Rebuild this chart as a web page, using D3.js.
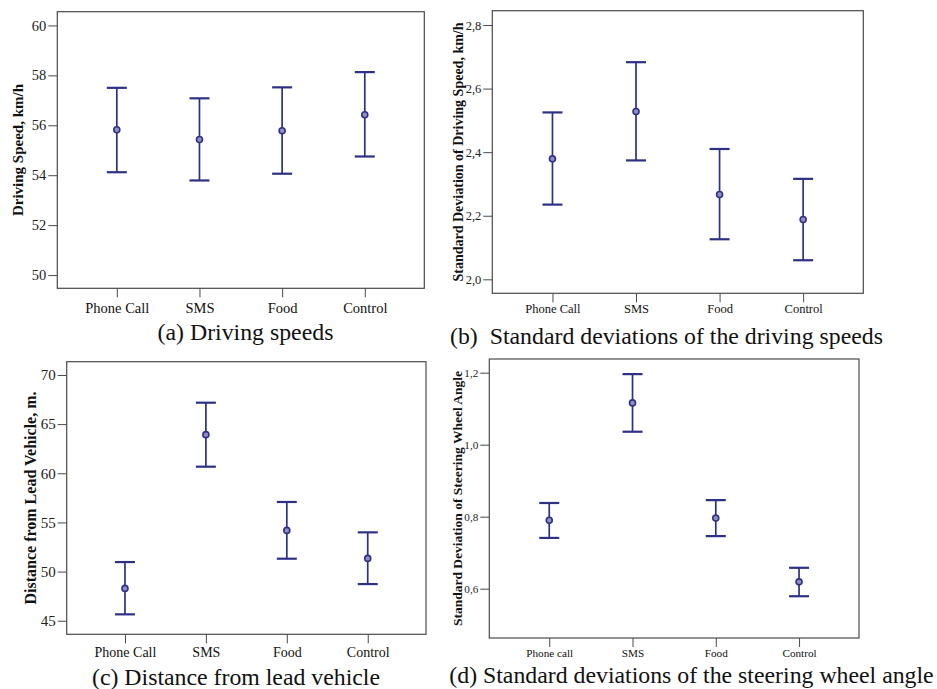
<!DOCTYPE html>
<html>
<head>
<meta charset="utf-8">
<script src="https://cdn.jsdelivr.net/npm/d3@7"></script>
<style>
  body { margin: 0; background: #fff; }
  svg { display: block; }
</style>
</head>
<body>
<svg width="937" height="689"></svg>
<script>
// categories
const groups = ["Phone Call", "SMS", "Food", "Control"];
const groupsSteer = ["Phone call", "SMS", "Food", "Control"];

// (a) driving speed, km/h : mean and 95% CI
const speedMean = [55.82, 55.43, 55.78, 56.42];
const speedLow  = [54.12, 53.79, 54.06, 54.75];
const speedHigh = [57.50, 57.08, 57.52, 58.13];
const speedTicks = [50, 52, 54, 56, 58, 60];

// (b) SD of driving speed
const sdSpeedMean = [2.379, 2.528, 2.267, 2.188];
const sdSpeedLow  = [2.235, 2.374, 2.126, 2.060];
const sdSpeedHigh = [2.525, 2.683, 2.410, 2.316];
const sdSpeedTicks = [2.0, 2.2, 2.4, 2.6, 2.8];

// (c) distance from lead vehicle, m
const distMean = [48.29, 63.93, 54.19, 51.34];
const distLow  = [45.65, 60.67, 51.31, 48.73];
const distHigh = [50.97, 67.18, 57.08, 53.99];
const distTicks = [45, 50, 55, 60, 65, 70];

// (d) SD of steering wheel angle
const steerMean = [0.790, 1.116, 0.796, 0.619];
const steerLow  = [0.741, 1.036, 0.746, 0.579];
const steerHigh = [0.838, 1.196, 0.846, 0.658];
const steerTicks = [0.6, 0.8, 1.0, 1.2];

const serif = "'Liberation Serif', 'Times New Roman', serif";
const navy = "#2e3086";
const frame = "#4a4a4a";

const svg = d3.select("svg");

const commaFmt = d => d3.format(".1f")(d).replace(".", ",");

const drawPanel = (p) => {
    const g = svg.append("g");

    const x = d3.scalePoint()
        .domain(p.cats)
        .range([p.left, p.right])
        .padding(0.72);

    const y = d3.scaleLinear()
        .domain(p.domain)
        .range([p.bottom, p.top]);

    g.append("rect")
        .attr("x", p.left)
        .attr("y", p.top)
        .attr("width", p.right - p.left)
        .attr("height", p.bottom - p.top)
        .attr("fill", "none")
        .attr("stroke", frame)
        .attr("stroke-width", 1.2);

    const axY = g.append("g")
        .attr("transform", `translate(${p.left},0)`)
        .call(d3.axisLeft(y).tickValues(p.ticks).tickFormat(p.fmt).tickSize(9).tickPadding(2));
    axY.select(".domain").remove();
    axY.selectAll("line").attr("stroke", frame);
    axY.selectAll("text")
        .attr("fill", "#222")
        .style("font-family", serif)
        .style("font-size", p.tickFont + "px");

    const axX = g.append("g")
        .attr("transform", `translate(0,${p.bottom})`)
        .call(d3.axisBottom(x).tickSize(9).tickPadding(p.xPad));
    axX.select(".domain").remove();
    axX.selectAll("line").attr("stroke", frame);
    axX.selectAll("text")
        .attr("fill", "#111")
        .style("font-family", serif)
        .style("font-size", p.catFont + "px");

    g.append("text")
        .attr("transform", `translate(${p.labelX},${(p.top + p.bottom) / 2}) rotate(-90)`)
        .attr("text-anchor", "middle")
        .style("font-family", serif)
        .style("font-weight", "bold")
        .style("font-size", p.labelFont + "px")
        .attr("fill", "#111")
        .text(p.label);

    const rows = p.cats.map((c, i) => ({ c, m: p.mean[i], lo: p.low[i], hi: p.high[i] }));
    const cap = 10;

    const bars = g.append("g").selectAll("g")
        .data(rows)
        .enter()
        .append("g");

    bars.append("line")
        .attr("x1", d => x(d.c)).attr("x2", d => x(d.c))
        .attr("y1", d => y(d.lo)).attr("y2", d => y(d.hi))
        .attr("stroke", navy).attr("stroke-width", 1.7);

    bars.append("line")
        .attr("x1", d => x(d.c) - cap).attr("x2", d => x(d.c) + cap)
        .attr("y1", d => y(d.hi)).attr("y2", d => y(d.hi))
        .attr("stroke", navy).attr("stroke-width", 2.2);

    bars.append("line")
        .attr("x1", d => x(d.c) - cap).attr("x2", d => x(d.c) + cap)
        .attr("y1", d => y(d.lo)).attr("y2", d => y(d.lo))
        .attr("stroke", navy).attr("stroke-width", 2.2);

    bars.append("circle")
        .attr("cx", d => x(d.c))
        .attr("cy", d => y(d.m))
        .attr("r", 3)
        .attr("fill", "#8e90c4")
        .attr("stroke", navy)
        .attr("stroke-width", 1.6);

    svg.append("text")
        .attr("x", p.capX)
        .attr("y", p.capY)
        .attr("text-anchor", "middle")
        .style("font-family", serif)
        .style("font-size", "23.8px")
        .style("white-space", "pre")
        .attr("fill", "#111")
        .text(p.caption);
};

drawPanel({
    cats: groups, mean: speedMean, low: speedLow, high: speedHigh, ticks: speedTicks,
    fmt: d3.format("d"), domain: [49.47, 60.55],
    left: 57.3, right: 424.3, top: 11.7, bottom: 288.3,
    tickFont: 14.5, catFont: 14.5, xPad: 5.2,
    label: "Driving Speed, km/h", labelX: 23.3, labelFont: 15,
    caption: "(a) Driving speeds", capX: 245.5, capY: 340
});

drawPanel({
    cats: groups, mean: sdSpeedMean, low: sdSpeedLow, high: sdSpeedHigh, ticks: sdSpeedTicks,
    fmt: commaFmt, domain: [1.956, 2.845],
    left: 492.3, right: 863.3, top: 10.7, bottom: 293.3,
    tickFont: 12.5, catFont: 12.5, xPad: 2.2,
    label: "Standard Deviation of Driving Speed, km/h", labelX: 463.3, labelFont: 14,
    caption: "(b)  Standard deviations of the driving speeds", capX: 666.5, capY: 344
});

drawPanel({
    cats: groups, mean: distMean, low: distLow, high: distHigh, ticks: distTicks,
    fmt: d3.format("d"), domain: [43.62, 71.35],
    left: 66.7, right: 426, top: 361.7, bottom: 634.3,
    tickFont: 15, catFont: 14, xPad: 3.8,
    label: "Distance from Lead Vehicle, m.", labelX: 35.5, labelFont: 16,
    caption: "(c) Distance from lead vehicle", capX: 236, capY: 685
});

drawPanel({
    cats: groupsSteer, mean: steerMean, low: steerLow, high: steerHigh, ticks: steerTicks,
    fmt: commaFmt, domain: [0.463, 1.238],
    left: 489.3, right: 859, top: 359, bottom: 638,
    tickFont: 11.2, catFont: 11.2, xPad: 2.4,
    label: "Standard Deviation of Steering Wheel Angle", labelX: 461.7, labelFont: 13.5,
    caption: "(d) Standard deviations of the steering wheel angle", capX: 691.5, capY: 683
});
</script>
</body>
</html>
